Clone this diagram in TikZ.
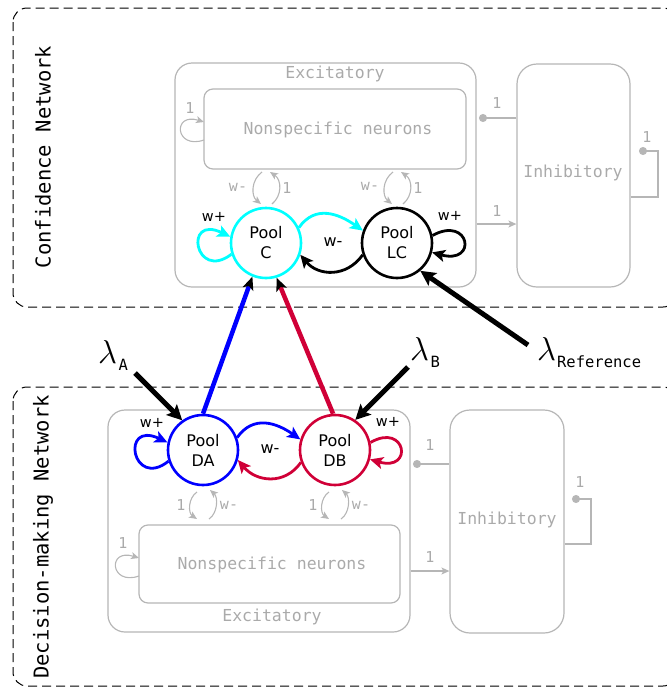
\documentclass[tikz,border=0pt]{standalone}
\usepackage{graphicx}
\usepackage{fontspec}
\setsansfont{DejaVu Sans}
\setmonofont{DejaVu Sans Mono}
\usetikzlibrary{arrows.meta}
\definecolor{lgray}{RGB}{182,182,182}
\definecolor{tgray}{RGB}{170,170,170}
\definecolor{dbred}{RGB}{208,0,55}
\definecolor{pcyan}{RGB}{0,255,255}
\definecolor{pblue}{RGB}{0,0,255}
\newcommand{\biglam}{\scalebox{1.33}{$\lambda$}}
\begin{document}
\begin{tikzpicture}[x=1pt,y=1pt,
  netframe/.style={draw=black, line width=1pt, dash pattern=on 9pt off 5pt, rounded corners=14pt},
  graybox/.style={draw=lgray, line width=1.2pt, rounded corners=17pt, inner sep=0pt},
  nsbox/.style={draw=lgray, line width=1.2pt, rounded corners=9pt, inner sep=0pt},
  pool/.style={circle, minimum size=70pt, inner sep=0pt, line width=2.6pt, align=center,
    font=\sffamily\fontsize{16}{20}\selectfont},
  wplus/.style={font=\sffamily\fontsize{14.5}{16}\selectfont, inner sep=0pt},
  wminus/.style={font=\sffamily\fontsize{16}{18}\selectfont, inner sep=0pt},
  glbl/.style={text=tgray, font=\ttfamily\fontsize{15}{17}\selectfont, inner sep=0pt},
  boxlbl/.style={text=tgray, font=\ttfamily\fontsize{16.5}{19}\selectfont, inner sep=0pt},
  netlbl/.style={rotate=90, font=\ttfamily\fontsize{20.5}{23}\selectfont, inner sep=0pt},
  lam/.style={anchor=base west, inner sep=0pt, font=\fontsize{24.88}{30}\selectfont},
  ptip/.style={-{Stealth[length=13pt,width=12pt,inset=3pt]}},
  gline/.style={draw=lgray, line width=1.1pt},
  garr/.style={gline, -{Stealth[length=8pt,width=7pt,inset=2pt]}},
  gdot/.style={gline, -{Circle[length=8pt]}},
  conn/.style={line width=2.8pt, ptip},
  cross/.style={line width=4.5pt, -{Stealth[length=13pt,width=11pt,inset=3pt,color=black]}},
  lamarr/.style={line width=5pt, -{Stealth[length=15pt,width=15pt,inset=3pt]}}
]
\useasboundingbox (0,0) rectangle (667,-689);

% network frames
\draw[netframe] (13,-8) rectangle (677,-307);
\draw[netframe] (13,-387) rectangle (677,-686);
\node[netlbl] (confl) at (43,-157) {Confidence Network};
\node[netlbl] (decl) at (43,-537) {Decision-making Network};

% ===== Confidence network =====
\node[graybox, minimum width=301pt, minimum height=224pt] (EC) at (325.5,-175) {};
\node[nsbox, minimum width=262pt, minimum height=80pt] (NC) at (335,-129) {};
\node[graybox, rounded corners=20pt, minimum width=113pt, minimum height=223pt] (IC) at (573.5,-175.5) {};
\node[boxlbl] (ECt) at (335,-74) {Excitatory};
\node[boxlbl] (NCt) at (338,-130) {Nonspecific neurons};
\node[boxlbl] (ICt) at (573,-173) {Inhibitory};

\node[pool, draw=pcyan] (C) at (266,-243) {Pool\\C};
\node[pool, draw=black] (LC) at (397,-243) {Pool\\LC};

\draw[conn, pcyan] (C.25) to[out=55,in=145,looseness=1.15] (LC.160);
\draw[conn, black] (LC.199) to[out=235,in=-50,looseness=1.15] (C.-19);
\node[wminus] (wmC) at (333,-242) {w-};
\draw[conn, pcyan] (C.198) .. controls (195,-282) and (183,-214) .. (C.170);
\node[wplus] (wpC) at (214,-217) {w+};
\draw[conn, black] (LC.12) .. controls (470,-215) and (478,-265) .. (LC.-15);
\node[wplus] (wpLC) at (450,-216) {w+};

% gray pool <-> nonspecific
\draw[garr] (262,-172) .. controls (251,-180) and (251,-196) .. (261,-204);
\draw[garr] (272,-204) .. controls (282,-196) and (282,-180) .. (270,-172);
\node[glbl] at (238,-187) {w-};
\node[glbl] at (287,-188) {1};
\draw[garr] (393,-172) .. controls (382,-180) and (382,-196) .. (392,-204);
\draw[garr] (403,-204) .. controls (413,-196) and (413,-180) .. (401,-172);
\node[glbl] at (370,-186) {w-};
\node[glbl] at (418,-188) {1};

% nonspecific self loop
\draw[garr] (204,-140) .. controls (175,-150) and (172,-112) .. (204,-122);
\node[glbl] at (190,-108) {1};

% excitatory <-> inhibitory
\draw[gdot] (IC.west |- 0,-118) -- (479,-118);
\node[glbl] at (497,-103) {1};
\draw[garr] (EC.east |- 0,-224) -- (IC.west |- 0,-224);
\node[glbl] at (497,-211) {1};
\draw[gdot] (IC.east |- 0,-197) -- (658,-197) -- (658,-151) -- (639,-151);
\node[glbl] at (647,-137) {1};

% ===== Decision network =====
\node[graybox, minimum width=302pt, minimum height=222pt] (ED) at (259,-521) {};
\node[nsbox, minimum width=261pt, minimum height=78pt] (ND) at (269.5,-564) {};
\node[graybox, rounded corners=20pt, minimum width=114pt, minimum height=223pt] (ID) at (507,-521.5) {};
\node[boxlbl] (EDt) at (272,-617) {Excitatory};
\node[boxlbl] (NDt) at (272,-565) {Nonspecific neurons};
\node[boxlbl] (IDt) at (507,-520) {Inhibitory};

\node[pool, draw=pblue] (DA) at (203,-450) {Pool\\DA};
\node[pool, draw=dbred] (DB) at (335,-450) {Pool\\DB};

\draw[conn, pblue] (DA.20) to[out=55,in=145,looseness=1.15] (DB.163);
\draw[conn, dbred] (DB.200) to[out=235,in=-50,looseness=1.15] (DA.-16);
\node[wminus] (wmD) at (270,-449) {w-};
\draw[conn, pblue] (DA.198) .. controls (132,-490) and (120,-420) .. (DA.168);
\node[wplus] (wpDA) at (152,-423) {w+};
\draw[conn, dbred] (DB.12) .. controls (406,-422) and (414,-472) .. (DB.-15);
\node[wplus] (wpDB) at (388,-422) {w+};

% gray pool <-> nonspecific
\draw[garr] (197,-492) .. controls (188,-498) and (188,-513) .. (197,-519);
\draw[garr] (209,-519) .. controls (218,-513) and (218,-497) .. (210,-490);
\node[glbl] at (181,-505) {1};
\node[glbl] at (229,-505) {w-};
\draw[garr] (329,-492) .. controls (320,-498) and (320,-513) .. (329,-519);
\draw[garr] (341,-519) .. controls (350,-513) and (350,-497) .. (342,-490);
\node[glbl] at (313,-505) {1};
\node[glbl] at (361,-505) {w-};

% nonspecific self loop
\draw[garr] (139,-576) .. controls (110,-586) and (107,-548) .. (139,-558);
\node[glbl] at (123,-543) {1};

% excitatory <-> inhibitory
\draw[gdot] (ID.west |- 0,-464) -- (413,-464);
\node[glbl] at (430,-445) {1};
\draw[garr] (ED.east |- 0,-571) -- (ID.west |- 0,-571);
\node[glbl] at (430,-557) {1};
\draw[gdot] (ID.east |- 0,-544) -- (591,-544) -- (591,-499) -- (572,-499);
\node[glbl] at (580,-482) {1};

% ===== cross connections =====
\draw[cross, pblue] (DA.90) -- (C.-112);
\draw[cross, dbred] (DB.93) -- (C.-73);

% ===== external inputs =====
\node[lam] (lamA) at (98,-363) {\biglam\kern1.5pt\raisebox{-7pt}{\ttfamily\fontsize{15.5}{17}\selectfont A}};
\node[lam] (lamB) at (410,-360) {\biglam\kern1.5pt\raisebox{-7pt}{\ttfamily\fontsize{15.5}{17}\selectfont B}};
\node[lam] (lamR) at (537,-360) {\biglam\kern1pt\raisebox{-7pt}{\ttfamily\fontsize{15.5}{17}\selectfont Reference}};
\coordinate (sA) at (135,-373);
\coordinate (sB) at (408,-367);
\coordinate (sR) at (528,-345);
\draw[lamarr] (sA) -- (DA.125);
\draw[lamarr] (sB) -- (DB.56);
\draw[lamarr] (sR) -- (LC.-50);
\end{tikzpicture}
\end{document}
